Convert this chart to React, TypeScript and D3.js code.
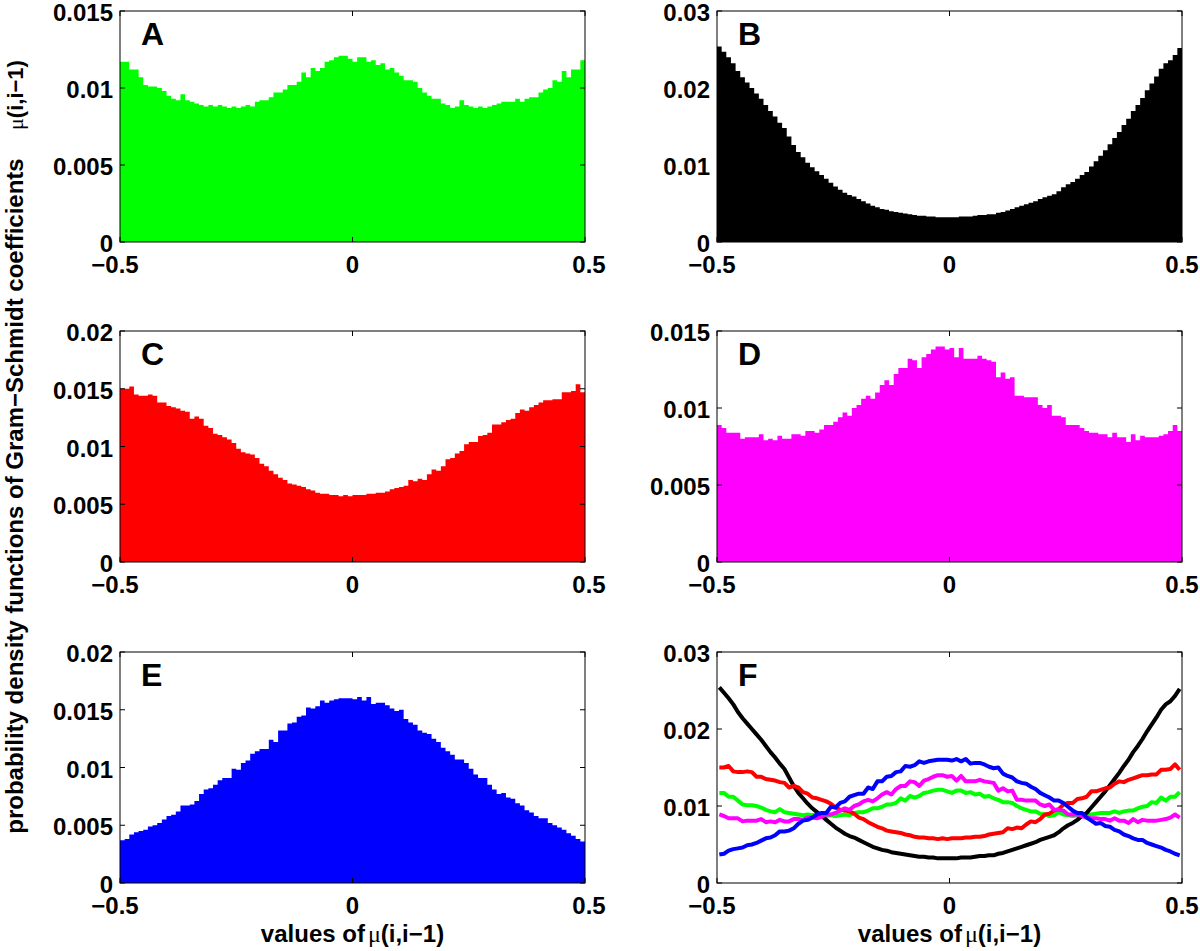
import React from "react";
import * as d3 from "d3";

// histogram heights, 100 bins over [-0.5, 0.5]
const greenA = [
  0.0117, 0.0117, 0.0112, 0.0112, 0.0107, 0.0102, 0.0101, 0.0101, 0.0100, 0.0098,
  0.0095, 0.0093, 0.0092, 0.0096, 0.0092, 0.0091, 0.0090, 0.0089, 0.0088, 0.0089,
  0.0088, 0.0089, 0.0088, 0.0087, 0.0088, 0.0087, 0.0088, 0.0089, 0.0088, 0.0091,
  0.0092, 0.0092, 0.0094, 0.0097, 0.0097, 0.0099, 0.0102, 0.0102, 0.0104, 0.0110,
  0.0107, 0.0113, 0.0111, 0.0113, 0.0117, 0.0118, 0.0120, 0.0121, 0.0121, 0.0119,
  0.0117, 0.0120, 0.0120, 0.0117, 0.0118, 0.0115, 0.0116, 0.0112, 0.0113, 0.0110,
  0.0108, 0.0105, 0.0105, 0.0104, 0.0100, 0.0097, 0.0095, 0.0093, 0.0093, 0.0090,
  0.0089, 0.0087, 0.0088, 0.0092, 0.0089, 0.0088, 0.0087, 0.0088, 0.0087, 0.0088,
  0.0089, 0.0090, 0.0091, 0.0091, 0.0091, 0.0093, 0.0091, 0.0093, 0.0094, 0.0094,
  0.0097, 0.0099, 0.0100, 0.0105, 0.0104, 0.0111, 0.0107, 0.0112, 0.0112, 0.0118,
];

const blackB = [
  0.0254, 0.0247, 0.0240, 0.0232, 0.0222, 0.0214, 0.0207, 0.0200, 0.0193, 0.0186,
  0.0178, 0.0170, 0.0163, 0.0155, 0.0148, 0.0137, 0.0126, 0.0117, 0.0110, 0.0103,
  0.0097, 0.0092, 0.0087, 0.0082, 0.0077, 0.0072, 0.0068, 0.0064, 0.0061, 0.0059,
  0.0056, 0.0053, 0.0050, 0.0047, 0.0045, 0.0043, 0.0042, 0.0040, 0.0039, 0.0038,
  0.0037, 0.0036, 0.0035, 0.0034, 0.0034, 0.0033, 0.0033, 0.0032, 0.0032, 0.0032,
  0.0032, 0.0032, 0.0033, 0.0033, 0.0033, 0.0034, 0.0035, 0.0035, 0.0036, 0.0036,
  0.0038, 0.0039, 0.0041, 0.0043, 0.0045, 0.0047, 0.0049, 0.0051, 0.0053, 0.0056,
  0.0058, 0.0060, 0.0062, 0.0066, 0.0071, 0.0075, 0.0078, 0.0082, 0.0087, 0.0091,
  0.0098, 0.0105, 0.0112, 0.0119, 0.0127, 0.0135, 0.0143, 0.0152, 0.0160, 0.0170,
  0.0178, 0.0187, 0.0197, 0.0206, 0.0215, 0.0225, 0.0232, 0.0236, 0.0243, 0.0252,
];

const redC = [
  0.0150, 0.0150, 0.0152, 0.0145, 0.0144, 0.0144, 0.0145, 0.0144, 0.0138, 0.0138,
  0.0135, 0.0134, 0.0133, 0.0131, 0.0130, 0.0124, 0.0126, 0.0124, 0.0118, 0.0116,
  0.0111, 0.0110, 0.0108, 0.0106, 0.0103, 0.0098, 0.0095, 0.0094, 0.0093, 0.0090,
  0.0085, 0.0083, 0.0079, 0.0076, 0.0073, 0.0071, 0.0068, 0.0067, 0.0066, 0.0065,
  0.0063, 0.0062, 0.0060, 0.0059, 0.0059, 0.0058, 0.0058, 0.0057, 0.0058, 0.0057,
  0.0058, 0.0058, 0.0058, 0.0059, 0.0059, 0.0060, 0.0060, 0.0061, 0.0063, 0.0064,
  0.0065, 0.0066, 0.0071, 0.0070, 0.0072, 0.0071, 0.0076, 0.0080, 0.0079, 0.0083,
  0.0089, 0.0090, 0.0094, 0.0096, 0.0102, 0.0104, 0.0104, 0.0109, 0.0110, 0.0112,
  0.0119, 0.0119, 0.0121, 0.0123, 0.0124, 0.0129, 0.0132, 0.0131, 0.0134, 0.0136,
  0.0138, 0.0140, 0.0140, 0.0141, 0.0141, 0.0147, 0.0147, 0.0148, 0.0154, 0.0147,
];

const magentaD = [
  0.0089, 0.0087, 0.0084, 0.0084, 0.0084, 0.0080, 0.0081, 0.0081, 0.0081, 0.0083,
  0.0079, 0.0080, 0.0079, 0.0082, 0.0080, 0.0080, 0.0083, 0.0083, 0.0082, 0.0085,
  0.0085, 0.0084, 0.0086, 0.0089, 0.0089, 0.0091, 0.0094, 0.0097, 0.0095, 0.0100,
  0.0102, 0.0106, 0.0108, 0.0106, 0.0110, 0.0115, 0.0118, 0.0115, 0.0122, 0.0126,
  0.0126, 0.0132, 0.0131, 0.0126, 0.0133, 0.0135, 0.0138, 0.0140, 0.0140, 0.0138,
  0.0139, 0.0133, 0.0139, 0.0132, 0.0132, 0.0132, 0.0134, 0.0132, 0.0131, 0.0130,
  0.0120, 0.0123, 0.0119, 0.0120, 0.0108, 0.0108, 0.0107, 0.0107, 0.0107, 0.0102,
  0.0100, 0.0102, 0.0095, 0.0095, 0.0094, 0.0089, 0.0089, 0.0089, 0.0087, 0.0085,
  0.0084, 0.0084, 0.0083, 0.0083, 0.0081, 0.0084, 0.0081, 0.0081, 0.0078, 0.0083,
  0.0079, 0.0082, 0.0081, 0.0081, 0.0081, 0.0082, 0.0083, 0.0085, 0.0089, 0.0085,
];

const blueE = [
  0.0037, 0.0038, 0.0042, 0.0044, 0.0045, 0.0046, 0.0049, 0.0050, 0.0052, 0.0055,
  0.0058, 0.0059, 0.0062, 0.0067, 0.0067, 0.0068, 0.0071, 0.0077, 0.0081, 0.0082,
  0.0085, 0.0089, 0.0091, 0.0091, 0.0099, 0.0098, 0.0104, 0.0106, 0.0112, 0.0114,
  0.0116, 0.0116, 0.0124, 0.0122, 0.0132, 0.0132, 0.0138, 0.0139, 0.0144, 0.0145,
  0.0152, 0.0151, 0.0153, 0.0158, 0.0156, 0.0158, 0.0159, 0.0160, 0.0160, 0.0160,
  0.0159, 0.0161, 0.0158, 0.0161, 0.0155, 0.0156, 0.0156, 0.0154, 0.0151, 0.0149,
  0.0150, 0.0142, 0.0139, 0.0137, 0.0132, 0.0130, 0.0129, 0.0125, 0.0122, 0.0117,
  0.0114, 0.0111, 0.0107, 0.0107, 0.0104, 0.0099, 0.0094, 0.0091, 0.0091, 0.0085,
  0.0081, 0.0077, 0.0078, 0.0074, 0.0073, 0.0069, 0.0067, 0.0063, 0.0061, 0.0058,
  0.0056, 0.0056, 0.0052, 0.0050, 0.0048, 0.0046, 0.0043, 0.0041, 0.0038, 0.0036,
];

const xTicks = [-0.5, 0, 0.5];
const xTickLabels = ["\u22120.5", "0", "0.5"];
const ticks015 = [0, 0.005, 0.01, 0.015];
const ticks02 = [0, 0.005, 0.01, 0.015, 0.02];
const ticks03 = [0, 0.01, 0.02, 0.03];

const FONT = "'Liberation Sans', Arial, Helvetica, sans-serif";
const SERIF = "'Liberation Serif', 'Times New Roman', serif";

const colLeft = [120, 717];
const rowTop = [11, 331, 652];
const PW = 465;
const PH = 231;
// small horizontal nudges of the x tick labels, per column
const xLabelShift = [
  [-5, 0, 4],
  [-5, 0, 0],
];

const panels = [
  { letter: "A", col: 0, row: 0, ticks: ticks015, hist: [{ v: greenA, c: "#00ff00" }] },
  { letter: "B", col: 1, row: 0, ticks: ticks03, hist: [{ v: blackB, c: "#000000" }] },
  { letter: "C", col: 0, row: 1, ticks: ticks02, hist: [{ v: redC, c: "#ff0000" }] },
  { letter: "D", col: 1, row: 1, ticks: ticks015, hist: [{ v: magentaD, c: "#ff00ff" }] },
  { letter: "E", col: 0, row: 2, ticks: ticks02, hist: [{ v: blueE, c: "#0000ff" }] },
  {
    letter: "F", col: 1, row: 2, ticks: ticks03, lines: [
      { v: greenA, c: "#00ff00" },
      { v: blackB, c: "#000000" },
      { v: redC, c: "#ff0000" },
      { v: magentaD, c: "#ff00ff" },
      { v: blueE, c: "#0000ff" },
    ],
  },
];

function Panel({ p }: { p: any }) {
  const left = colLeft[p.col];
  const top = rowTop[p.row];
  const x = d3.scaleLinear().domain([-0.5, 0.5]).range([left, left + PW]);
  const yMax = p.ticks[p.ticks.length - 1];
  const y = d3.scaleLinear().domain([0, yMax]).range([top + PH, top]);
  const n = 100;
  const step = 1 / n;

  const area = d3
    .area<number>()
    .x((d, i) => x(-0.5 + i * step))
    .y0(y(0))
    .y1((d) => y(d))
    .curve(d3.curveStepAfter);

  const line = d3
    .line<number>()
    .x((d, i) => x(-0.5 + (i + 0.5) * step))
    .y((d) => y(d));

  const tl = 5;
  return (
    <g>
      {p.hist &&
        p.hist.map((h: any, k: number) => (
          <path
            key={k}
            d={area([...h.v, h.v[h.v.length - 1]]) || ""}
            fill={h.c}
            stroke="none"
          />
        ))}
      {p.lines &&
        p.lines.map((l: any, k: number) => (
          <path
            key={k}
            d={line(l.v) || ""}
            fill="none"
            stroke={l.c}
            strokeWidth={4}
            strokeLinejoin="round"
          />
        ))}
      <rect x={left} y={top} width={PW} height={PH} fill="none" stroke="#000" strokeWidth={1} />
      {p.ticks.map((t: number) => (
        <g key={t}>
          <line x1={left} x2={left + tl} y1={y(t)} y2={y(t)} stroke="#000" />
          <line x1={left + PW} x2={left + PW - tl} y1={y(t)} y2={y(t)} stroke="#000" />
          <text
            x={left - 7}
            y={y(t) + 10}
            textAnchor="end"
            fontFamily={FONT}
            fontWeight="bold"
            fontSize={24}
          >
            {String(t)}
          </text>
        </g>
      ))}
      {xTicks.map((t, i) => (
        <g key={t}>
          <line x1={x(t)} x2={x(t)} y1={top + PH} y2={top + PH - tl} stroke="#000" />
          <line x1={x(t)} x2={x(t)} y1={top} y2={top + tl} stroke="#000" />
          <text
            x={x(t) + xLabelShift[p.col][i]}
            y={top + PH + 31}
            textAnchor="middle"
            fontFamily={FONT}
            fontWeight="bold"
            fontSize={24}
          >
            {xTickLabels[i]}
          </text>
        </g>
      ))}
      <text
        x={left + 21}
        y={top + 34}
        fontFamily={FONT}
        fontWeight="bold"
        fontSize={32}
      >
        {p.letter}
      </text>
    </g>
  );
}

function MuLabel({ prefix }: { prefix: string }) {
  return (
    <>
      {prefix}
      <tspan fontFamily={SERIF} fontWeight="normal" dx={prefix ? 3 : 0}>
        {"\u03bc"}
      </tspan>
      (i,i{"\u2212"}1)
    </>
  );
}

export default function App() {
  return (
    <svg
      width={1200}
      height={951}
      style={{ position: "absolute", left: 0, top: 0, background: "#fff" }}
    >
      {panels.map((p) => (
        <Panel key={p.letter} p={p} />
      ))}
      {[0, 1].map((c) => (
        <text
          key={c}
          x={colLeft[c] + PW / 2}
          y={942}
          textAnchor="middle"
          fontFamily={FONT}
          fontWeight="bold"
          fontSize={24}
        >
          <MuLabel prefix="values of" />
        </text>
      ))}
      <text
        transform="translate(23,496) rotate(-90)"
        textAnchor="middle"
        fontFamily={FONT}
        fontWeight="bold"
        fontSize={24}
      >
        probability density functions of Gram{"\u2212"}Schmidt coefficients
      </text>
      <text
        transform="translate(23,95) rotate(-90)"
        textAnchor="middle"
        fontFamily={FONT}
        fontWeight="bold"
        fontSize={22}
      >
        <MuLabel prefix="" />
      </text>
    </svg>
  );
}
